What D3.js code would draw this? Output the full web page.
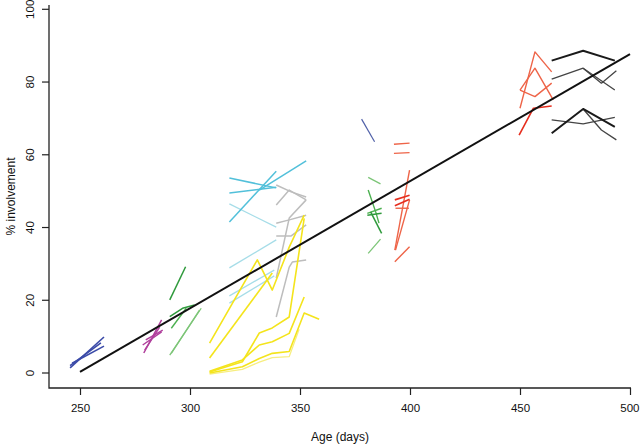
<!DOCTYPE html>
<html><head><meta charset="utf-8">
<script src="https://cdn.jsdelivr.net/npm/d3@7/dist/d3.min.js"></script>
<style>body{margin:0;background:#fff}svg{display:block}text{font-family:"Liberation Sans",Arial,sans-serif;fill:#111}</style>
</head><body><svg id="c" width="640" height="444"></svg>
<script>
// Ticks
const xTicks = [250, 300, 350, 400, 450, 500];
const yTicks = [0, 20, 40, 60, 80, 100];

// Series: each is a list of trajectories, each a list of [age, % involvement]
const blueLines = [
  [[245.5,1.4],[260.9,9.9]],
  [[246.4,2.7],[260.9,7.4]],
  [[245.5,2.0],[259.5,8.3]]
];
const slateLines = [
  [[378.0,69.8],[383.9,63.6]]
];
const magentaLines = [
  [[279.0,5.5],[287.1,14.6]],
  [[278.5,7.7],[287.1,11.3]],
  [[279.4,6.3],[286.2,12.6]],
  [[279.9,9.1],[287.6,11.8]]
];
const darkGreenLines = [
  [[290.8,20.1],[298.0,29.2]],
  [[290.8,15.5],[296.6,17.8],[302.1,18.7]],
  [[382.1,44.3],[387.1,38.4]],
  [[380.6,43.4],[387.1,43.9]]
];
const greenLines = [
  [[291.5,12.3],[298.3,17.8]],
  [[381.0,50.3],[384.4,44.3],[385.9,41.2]],
  [[380.6,43.9],[387.1,45.3]]
];
const lightGreenLines = [
  [[290.8,4.9],[305.1,17.8]],
  [[291.5,5.4],[304.3,17.3]],
  [[381.0,53.8],[386.6,52.0]],
  [[381.0,32.9],[386.6,36.8]]
];
const cyanLines = [
  [[317.9,53.6],[339.2,50.9]],
  [[317.9,49.5],[339.2,51.1]],
  [[317.9,41.5],[339.2,55.5]],
  [[331.5,50.3],[352.8,58.3]]
];
const lightCyanLines = [
  [[317.9,46.5],[339.2,40.1]],
  [[317.9,28.9],[339.2,36.6]],
  [[317.9,21.2],[338.3,28.3]],
  [[317.9,19.2],[338.3,26.7]]
];
const grayLines = [
  [[339.2,51.7],[346.0,49.8],[352.8,48.4]],
  [[339.2,46.2],[345.1,50.3],[352.8,47.6]],
  [[339.2,41.2],[345.1,42.1],[352.8,43.4]],
  [[339.2,37.7],[346.0,37.7],[352.8,40.7]],
  [[339.2,26.1],[345.1,42.6],[352.8,47.6]],
  [[339.2,15.4],[345.1,29.1],[346.5,30.5],[352.8,31.1]]
];
const yellowLines = [
  [[308.9,8.2],[330.6,31.1],[337.4,22.8],[345.1,34.6],[351.9,43.4]],
  [[308.9,4.1],[337.4,27.5]],
  [[308.9,0.3],[323.8,3.1],[331.5,11.0],[337.4,12.4],[345.1,15.4],[351.9,42.5]],
  [[308.9,0.5],[323.8,3.6],[331.5,7.7],[337.4,8.6],[345.1,10.9],[351.9,20.9]],
  [[308.9,0.0],[323.8,1.7],[331.5,4.0],[337.4,5.4],[345.1,5.9],[351.9,16.5],[358.7,14.8]]
];
const paleYellowLines = [
  [[308.9,-0.3],[323.8,1.0],[331.5,3.0],[337.4,4.2],[345.1,4.5],[349.6,12.0]]
];
const orangeLines = [
  [[392.7,62.9],[399.8,63.2]],
  [[392.7,60.4],[399.8,60.6]],
  [[393.1,33.8],[399.8,55.8]],
  [[393.4,45.3],[399.5,45.3]],
  [[393.4,33.8],[399.8,47.6]],
  [[393.1,30.6],[399.8,34.7]],
  [[450.0,72.8],[456.8,88.3],[464.4,82.8]],
  [[450.0,77.8],[456.8,83.8],[465.1,75.1]],
  [[450.0,77.8],[456.8,76.0],[464.4,79.7]]
];
const redLines = [
  [[393.1,47.6],[399.8,48.9]],
  [[393.1,46.0],[399.8,47.8]],
  [[449.6,65.4],[456.1,72.8],[464.4,73.4]]
];
const blackThickLines = [
  [[464.4,85.9],[478.7,88.6],[493.1,85.9]],
  [[464.4,65.9],[478.7,72.6],[493.1,67.7]]
];
const blackThinLines = [
  [[464.4,80.8],[478.7,83.8],[487.0,79.7],[493.8,83.1]],
  [[478.7,83.8],[493.1,77.8]],
  [[464.4,69.6],[478.7,68.5],[493.1,70.3]],
  [[478.7,72.6],[487.0,66.8],[493.8,64.1]]
];
const fitLine = [[250,0.3],[500,87.7]];

const groups = [
  {data: lightCyanLines, color: "#a6dde8", w: 1.3},
  {data: cyanLines, color: "#52c0da", w: 1.5},
  {data: grayLines, color: "#bdbdbd", w: 1.5},
  {data: paleYellowLines, color: "#f7ee80", w: 1.3},
  {data: yellowLines, color: "#f4e41c", w: 1.6},
  {data: blueLines, color: "#3b4ba8", w: 1.6},
  {data: slateLines, color: "#5060a8", w: 1.2},
  {data: magentaLines, color: "#b0409c", w: 1.5},
  {data: lightGreenLines, color: "#7cc577", w: 1.3},
  {data: greenLines, color: "#4cb050", w: 1.4},
  {data: darkGreenLines, color: "#2f9a3c", w: 1.5},
  {data: orangeLines, color: "#ee6448", w: 1.4},
  {data: redLines, color: "#e62e1e", w: 1.6},
  {data: blackThinLines, color: "#444", w: 1.3},
  {data: blackThickLines, color: "#1a1a1a", w: 2}
];

const svg = d3.select("#c");
const x = d3.scaleLinear().domain([250, 500]).range([80, 630]);
const y = d3.scaleLinear().domain([0, 100]).range([373, 9.3]);
const line = d3.line().x(d => x(d[0])).y(d => y(d[1]));

// Box (L shape)
const pLeft = 49, pBottom = 388, pTop = 5, pRight = 631;
svg.append("path").attr("d", `M${pLeft},${pTop}V${pBottom}H${pRight}`)
  .attr("fill","none").attr("stroke","#222").attr("stroke-width",1.3);

// Axes
const xAxis = d3.axisBottom(x).tickValues(xTicks).tickSize(7).tickPadding(9);
const gx = svg.append("g").attr("transform",`translate(0,${pBottom})`).call(xAxis);
gx.select(".domain").remove();
gx.selectAll("line").attr("stroke","#222").attr("stroke-width",1.2);
gx.selectAll("text").attr("font-size",11.5).attr("fill","#111")
  .attr("text-anchor", d => d === 500 ? "end" : "middle")
  .attr("x", d => d === 500 ? 9 : 0);

const gy = svg.append("g");
yTicks.forEach(v => {
  gy.append("line").attr("x1",pLeft-7).attr("x2",pLeft).attr("y1",y(v)).attr("y2",y(v))
    .attr("stroke","#222").attr("stroke-width",1.2);
  gy.append("text").attr("transform",`translate(34,${y(v)}) rotate(-90)`)
    .attr("text-anchor","middle").attr("font-size",11.5).text(v);
});

// Series
groups.forEach(g => {
  svg.append("g").selectAll("path").data(g.data).join("path")
    .attr("d", line).attr("fill","none").attr("stroke", g.color)
    .attr("stroke-width", g.w).attr("stroke-linejoin","round");
});

// Fit line
svg.append("path").attr("d", line(fitLine)).attr("fill","none")
  .attr("stroke","#111").attr("stroke-width",2);

// Titles
svg.append("text").attr("x",(pLeft+pRight)/2).attr("y",441).attr("text-anchor","middle")
  .attr("font-size",12).text("Age (days)");
svg.append("text").attr("transform",`translate(15,${(pTop+pBottom)/2}) rotate(-90)`)
  .attr("text-anchor","middle").attr("font-size",12).text("% involvement");
</script></body></html>
